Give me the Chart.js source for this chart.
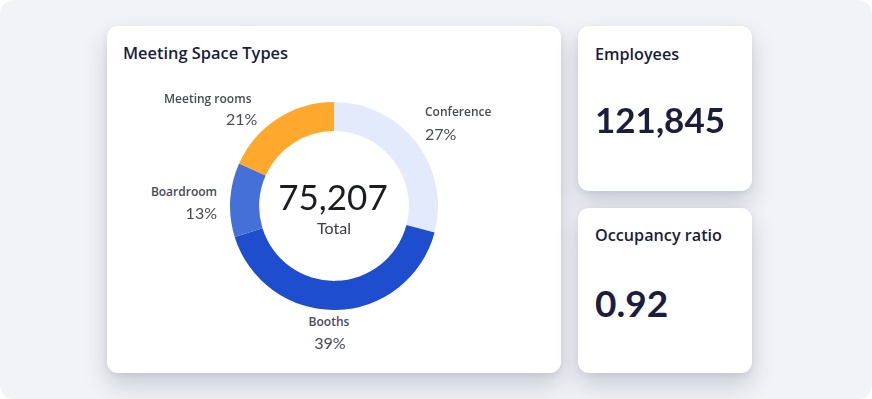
<!DOCTYPE html>
<html>
<head>
<meta charset="utf-8">
<script src="https://cdn.jsdelivr.net/npm/chart.js@4.4.0/dist/chart.umd.min.js"></script>
<style>
  html, body { margin:0; padding:0; background:#ffffff; }
  body { width:872px; height:399px; overflow:hidden; font-family: Lato, "Open Sans", sans-serif; }
  #bg { position:absolute; left:0; top:0; width:872px; height:399px; background:#f2f3f7; border-radius:14px; }
  .card { position:absolute; background:#ffffff; border-radius:11px;
          box-shadow: 0 12px 24px rgba(40,50,90,0.20), 0 2px 6px rgba(40,50,90,0.08); }
  .t { position:absolute; line-height:1; white-space:nowrap; }
  .os { font-family: "Open Sans", Lato, sans-serif; }
  #chartBox { position:absolute; left:230px; top:102px; width:208px; height:208px; }
</style>
</head>
<body>
<div id="bg"></div>
<div class="card" style="left:107px;top:26px;width:454px;height:347px;"></div>
<div class="card" style="left:578px;top:26px;width:174px;height:165px;"></div>
<div class="card" style="left:578px;top:208px;width:174px;height:165px;"></div>

<div id="chartBox"><canvas id="c"></canvas></div>
<div id="labels"></div>

<script>
// ---- data ----
const categories    = ["Conference", "Booths", "Boardroom", "Meeting rooms"];
const arcShares     = [29.1, 41.1, 11.5, 18.3];   // arc sizes as drawn
const percentLabels = ["27%", "39%", "13%", "21%"];
const sliceColors   = ["#e3eafb", "#1e4ecd", "#4470d8", "#fea92e"];
const chartTitle    = "Meeting Space Types";
const totalValue    = "75,207";
const totalLabel    = "Total";
const kpiTitles     = ["Employees", "Occupancy ratio"];
const kpiValues     = ["121,845", "0.92"];

new Chart(document.getElementById('c'), {
  type: 'doughnut',
  data: {
    labels: categories,
    datasets: [{ data: arcShares, backgroundColor: sliceColors, borderWidth: 0, hoverOffset: 0 }]
  },
  options: {
    responsive: true,
    maintainAspectRatio: false,
    animation: false,
    cutout: '72%',
    layout: { padding: 0 },
    plugins: { legend: { display: false }, tooltip: { enabled: false } }
  }
});

// ---- text ----
const L = document.getElementById('labels');
function txt(s, css, cls) {
  const d = document.createElement('div');
  d.className = 't' + (cls ? ' ' + cls : '');
  d.textContent = s;
  d.style.cssText += css;
  L.appendChild(d);
  return d;
}
const dark = "#1a1d3b";
const lab = "#4a4a55";
txt(chartTitle, `left:123px;top:44.8px;font-size:16.4px;font-weight:600;color:${dark};`, 'os');

// category labels
const catPos = [
  {name:`left:425px;top:106px;`, pct:`left:425px;top:126px;`},                 // Conference
  {name:`left:329px;top:316px;transform:translateX(-50%);`, pct:`left:330px;top:335px;transform:translateX(-50%);`}, // Booths
  {name:`right:${872-217}px;top:186px;`, pct:`right:${872-217}px;top:205px;`},  // Boardroom
  {name:`left:164px;top:93px;`, pct:`left:226px;top:111px;`}                   // Meeting rooms
];
categories.forEach((c, i) => {
  txt(c, catPos[i].name + `font-size:12px;font-weight:600;color:${lab};`, 'os');
  txt(percentLabels[i], catPos[i].pct + `font-size:16px;font-weight:400;color:${lab};`);
});

txt(totalValue, `left:333px;top:178.5px;transform:translateX(-50%);font-size:35px;font-weight:400;color:#1c1c24;`);
txt(totalLabel, `left:334px;top:219.5px;transform:translateX(-50%);font-size:16px;font-weight:400;color:#3a3a44;`);

txt(kpiTitles[0], `left:595px;top:46.2px;font-size:16.2px;font-weight:600;color:${dark};`, 'os');
txt(kpiValues[0], `left:595px;top:102px;font-size:35px;font-weight:700;color:${dark};`);
txt(kpiTitles[1], `left:595px;top:227.2px;font-size:16.2px;font-weight:600;color:${dark};`, 'os');
txt(kpiValues[1], `left:595px;top:284px;font-size:37px;font-weight:700;color:${dark};`);
</script>
</body>
</html>
